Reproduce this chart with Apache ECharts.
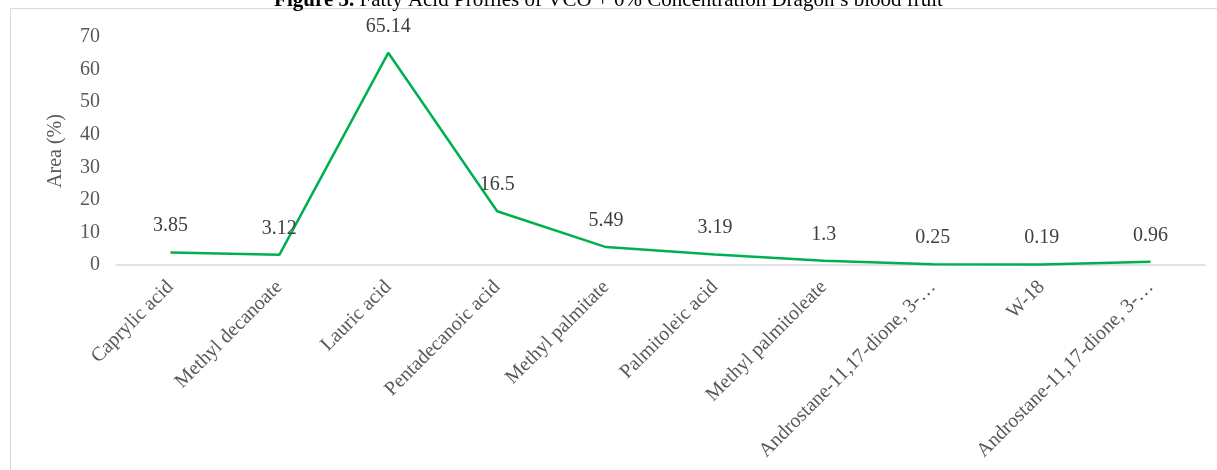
<!DOCTYPE html>
<html>
<head>
<meta charset="utf-8">
<script src="https://cdn.jsdelivr.net/npm/echarts@6/dist/echarts.min.js"></script>
<style>
  html, body { margin: 0; padding: 0; background: #fff; }
  #chart { width: 1217px; height: 470px; }
</style>
</head>
<body>
<div id="chart"></div>
<script>
// Fatty acid components and their peak area share
const categories = [
  'Caprylic acid',
  'Methyl decanoate',
  'Lauric acid',
  'Pentadecanoic acid',
  'Methyl palmitate',
  'Palmitoleic acid',
  'Methyl palmitoleate',
  'Androstane-11,17-dione, 3-\u2026',
  'W-18',
  'Androstane-11,17-dione, 3-\u2026'
];
const areaValues = [3.85, 3.12, 65.14, 16.5, 5.49, 3.19, 1.3, 0.25, 0.19, 0.96];
const yTicks = { min: 0, max: 70, interval: 10 };

const serif = '"Liberation Serif", "Times New Roman", serif';
const chart = echarts.init(document.getElementById('chart'));

chart.setOption({
  animation: false,
  backgroundColor: '#fff',
  title: {
    text: '{b|Figure 3.} Fatty Acid Profiles of VCO + 0% Concentration Dragon\u2019s blood fruit',
    left: 'center',
    top: -15,
    textStyle: {
      fontFamily: serif, fontSize: 21, color: '#000', fontWeight: 'normal',
      rich: { b: { fontFamily: serif, fontSize: 21, fontWeight: 'bold', color: '#000' } }
    }
  },
  graphic: [{
    type: 'rect',
    shape: { x: 10.5, y: 8.5, width: 1220, height: 480 },
    style: { fill: 'none', stroke: '#d9d9d9', lineWidth: 1 },
    z: -1
  }],
  grid: { left: 116, right: 12, top: 37, bottom: 205 },
  xAxis: {
    type: 'category',
    data: categories,
    boundaryGap: true,
    axisLine: { lineStyle: { color: '#d9d9d9', width: 1.5 } },
    axisTick: { show: false },
    axisLabel: {
      rotate: 45, interval: 0, margin: 19,
      fontFamily: serif, fontSize: 20, color: '#595959'
    }
  },
  yAxis: {
    type: 'value',
    min: yTicks.min, max: yTicks.max, interval: yTicks.interval,
    name: 'Area (%)',
    nameLocation: 'middle',
    nameGap: 50,
    nameTextStyle: { fontFamily: serif, fontSize: 20, color: '#595959' },
    axisLine: { show: false },
    axisTick: { show: false },
    splitLine: { show: false },
    axisLabel: { fontFamily: serif, fontSize: 20, color: '#595959', margin: 16 }
  },
  series: [{
    type: 'line',
    data: areaValues,
    symbol: 'circle',
    symbolSize: 1,
    showSymbol: true,
    itemStyle: { color: 'rgba(0,0,0,0)' },
    lineStyle: { color: '#00B050', width: 2.5 },
    label: {
      show: true, position: 'top', distance: 16,
      fontFamily: serif, fontSize: 20, color: '#404040'
    }
  }]
});
</script>
</body>
</html>
